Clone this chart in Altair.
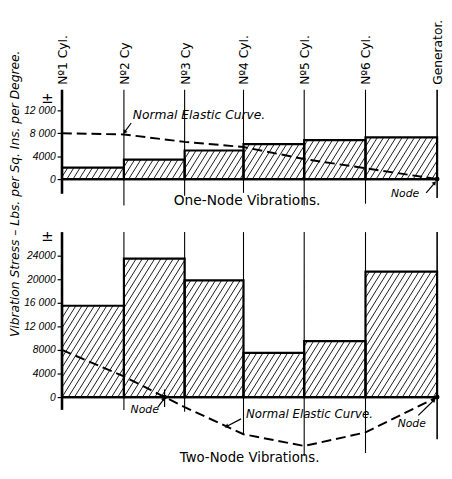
import math
import altair as alt
import pandas as pd

# ---------------- data ----------------
stations = ["Nº1 Cyl.", "Nº2 Cy", "Nº3 Cy", "Nº4 Cyl.", "Nº5 Cyl.", "Nº6 Cyl.", "Generator."]
station_pos = [0, 1.02, 2.02, 2.99, 3.99, 5.0, 6.18]

one_node_stress = [2000, 3400, 5000, 6100, 6800, 7300]
one_node_curve = [8000, 7800, 6500, 5600, 3500, 1900, 0]
one_node_nodes = [6.18]

two_node_stress = [15500, 23500, 19800, 7500, 9500, 21300]
two_node_curve = [8000, 3500, -1700, -6300, -8300, -6000, 0]
two_node_nodes = [1.69, 6.18]

top_ticks = [0, 4000, 8000, 12000]
top_tick_labels = ["0", "4000", "8 000", "12 000"]
bot_ticks = [0, 4000, 8000, 12000, 16000, 20000, 24000]
bot_tick_labels = ["0", "4000", "8000", "12 000", "16 000", "20000", "24000"]

# lower ends of the station lines in each panel (data units)
top_line_ends = [-2570, -4630, -2900, -2400, -4630, -4300, -3300]
bot_line_ends = [-2170, -2170, -2500, -6170, -10000, -9500, -7170]

# ---------------- layout ----------------
X_MAX = 6.18
W = 382
H = 373                      # both panels share one plot area
TOP_PXK = 118 / 20240        # px per stress unit, one-node panel
BOT_PXK = 228 / 38000        # px per stress unit, two-node panel
TOP_REGION = [-4630, 15610]
BOT_REGION = [-10000, 28000]
TOP_DOM = [TOP_REGION[1] - H / TOP_PXK, TOP_REGION[1]]
BOT_DOM = [BOT_REGION[0], BOT_REGION[0] + H / BOT_PXK]
FONT = "DejaVu Sans"
PX_X = W / X_MAX


def xs():
    return alt.Scale(domain=[0, X_MAX], nice=False, zero=False)


def ys(dom):
    return alt.Scale(domain=dom, nice=False, zero=False)


def label_expr(ticks, labels):
    expr = "''"
    for t, l in zip(ticks, labels):
        expr = f"datum.value == {t} ? '{l}' : ({expr})"
    return expr


def make_axis(ticks, labels):
    return alt.Axis(values=ticks, labelExpr=label_expr(ticks, labels), title=None, orient="left",
                    domain=False, grid=False, ticks=True, tickSize=5, tickWidth=1.2,
                    tickColor="black", labelPadding=2, labelFont="Liberation Sans",
                    labelFontStyle="italic", labelFontSize=10.5, labelColor="black")


def panel(stress, curve, nodes, line_ends, region, dom, px_y, ticks, tlabels, annotations,
          arrows, extra_texts, node_ticks):
    ax = make_axis(ticks, tlabels)
    X = lambda f: alt.X(f, scale=xs(), axis=None)
    Y = lambda f: alt.Y(f, scale=ys(dom), axis=ax)

    ymax = max(stress)
    bars = pd.DataFrame({"x0": station_pos[:-1], "x1": station_pos[1:], "v": stress})
    bars["top"] = ymax + 3 / px_y

    shift = ymax * px_y / 1.6 / PX_X
    step = 6.3 / PX_X
    hatch = alt.Chart(alt.sequence(0, X_MAX + shift + step, step, as_="t")).transform_calculate(
        t0=f"datum.t - {shift}", y0="0", y1=str(ymax)
    ).mark_rule(strokeWidth=0.9, color="black", clip=True).encode(
        x=X("t0:Q"), x2="t:Q", y=Y("y0:Q"), y2="y1:Q")

    mask = alt.Chart(bars).mark_rect(color="white").encode(
        x=X("x0:Q"), x2="x1:Q", y=Y("v:Q"), y2="top:Q")

    outline = alt.Chart(bars).mark_rect(fillOpacity=0, stroke="black", strokeWidth=2.2).encode(
        x=X("x0:Q"), x2="x1:Q", y=Y("v:Q"), y2=alt.Y2(datum=0))

    lines_df = pd.DataFrame({"x": station_pos, "lo": line_ends})
    lines_df["hi"] = region[1]
    lines_df["w"] = [2.6] + [1.1] * (len(station_pos) - 2) + [1.6]
    vlines = alt.Chart(lines_df).mark_rule(color="black").encode(
        x=X("x:Q"), y=Y("lo:Q"), y2="hi:Q",
        strokeWidth=alt.StrokeWidth("w:Q", scale=None))

    base_df = pd.DataFrame({"a": [0], "b": [X_MAX], "v": [0]})
    base = alt.Chart(base_df).mark_rule(color="black", strokeWidth=2.4).encode(
        x=X("a:Q"), x2="b:Q", y=Y("v:Q"))

    curve_df = pd.DataFrame({"x": station_pos, "v": curve})
    crv = alt.Chart(curve_df).mark_line(color="black", strokeWidth=2, strokeDash=[10, 5]).encode(
        x=X("x:Q"), y=Y("v:Q"))

    node_df = pd.DataFrame({"x": nodes, "v": [0] * len(nodes)})
    node_pts = alt.Chart(node_df).mark_point(filled=True, color="black", size=24, opacity=1).encode(
        x=X("x:Q"), y=Y("v:Q"))

    layers = [hatch, mask, outline, vlines, base, crv, node_pts]

    if node_ticks:
        nt = pd.DataFrame(node_ticks, columns=["x", "lo", "hi"])
        layers.append(alt.Chart(nt).mark_rule(color="black", strokeWidth=1.2).encode(
            x=X("x:Q"), y=Y("lo:Q"), y2="hi:Q"))

    ann = pd.DataFrame(annotations, columns=["x", "v", "txt", "fs"])
    layers.append(alt.Chart(ann).mark_text(align="left", baseline="middle", font=FONT,
                                           fontStyle="italic", color="black").encode(
        x=X("x:Q"), y=Y("v:Q"), text="txt:N", size=alt.Size("fs:Q", scale=None)))

    arr = pd.DataFrame(arrows, columns=["x1", "v1", "x2", "v2"])
    arr["ang"] = [math.degrees(math.atan2((r.x2 - r.x1) * PX_X, (r.v2 - r.v1) * px_y))
                  for r in arr.itertuples()]
    layers.append(alt.Chart(arr).mark_rule(color="black", strokeWidth=1.2).encode(
        x=X("x1:Q"), x2="x2:Q", y=Y("v1:Q"), y2="v2:Q"))
    layers.append(alt.Chart(arr).mark_point(shape="triangle-up", filled=True, color="black",
                                            size=22, opacity=1).encode(
        x=X("x2:Q"), y=Y("v2:Q"), angle=alt.Angle("ang:Q", scale=None)))

    for df, props in extra_texts:
        layers.append(alt.Chart(df).mark_text(color="black", **props).encode(
            x=X("x:Q"), y=Y("v:Q"), text="txt:N"))

    return alt.layer(*layers)


# one-node panel extras
top_labels_df = pd.DataFrame({"x": station_pos, "v": [16460] * 7, "txt": stations})
pm_top = pd.DataFrame({"x": [-0.24], "v": [14200], "txt": ["±"]})
one_title = pd.DataFrame({"x": [3.05], "v": [-3800], "txt": ["One-Node Vibrations."]})

top = panel(
    one_node_stress, one_node_curve, one_node_nodes, top_line_ends, TOP_REGION, TOP_DOM, TOP_PXK,
    top_ticks, top_tick_labels,
    annotations=[(1.165, 11140, "Normal Elastic Curve.", 12.5), (5.42, -2570, "Node", 11)],
    arrows=[(1.14, 9800, 1.03, 8200), (6.0, -2400, 6.14, -650)],
    extra_texts=[
        (top_labels_df, dict(angle=270, align="left", baseline="middle", font=FONT,
                             fontSize=12.5, dy=1)),
        (pm_top, dict(align="center", baseline="middle", font=FONT, fontSize=15)),
        (one_title, dict(align="center", baseline="middle", font=FONT, fontSize=14)),
    ],
    node_ticks=[],
)

pm_bot = pd.DataFrame({"x": [-0.24], "v": [27300], "txt": ["±"]})
two_title = pd.DataFrame({"x": [3.09], "v": [-10300], "txt": ["Two-Node Vibrations."]})
y_title = pd.DataFrame({"x": [-0.78], "v": [34500],
                        "txt": ["Vibration Stress – Lbs. per Sq. Ins. per Degree."]})

bottom = panel(
    two_node_stress, two_node_curve, two_node_nodes, bot_line_ends, BOT_REGION, BOT_DOM, BOT_PXK,
    bot_ticks, bot_tick_labels,
    annotations=[(1.13, -2170, "Node", 11), (3.03, -2830, "Normal Elastic Curve.", 12),
                 (5.53, -4500, "Node", 11)],
    arrows=[(1.58, -1700, 1.68, -300), (2.95, -3700, 2.71, -5000), (5.87, -3100, 6.13, -500)],
    extra_texts=[
        (pm_bot, dict(align="center", baseline="middle", font=FONT, fontSize=15)),
        (two_title, dict(align="center", baseline="middle", font=FONT, fontSize=13.5)),
        (y_title, dict(angle=270, align="center", baseline="middle", font=FONT,
                       fontStyle="italic", fontSize=12.5)),
    ],
    node_ticks=[(1.69, 1300, -1700)],
)

chart = alt.layer(top, bottom).resolve_scale(y="independent").resolve_axis(
    y="independent"
).properties(
    width=W, height=H,
    autosize=alt.AutoSizeParams(type="none"),
    padding={"left": 55, "top": 79, "right": 7, "bottom": 9},
    background="white",
).configure_view(stroke=None)

chart.save("out.html", embed_options={"renderer": "svg", "actions": False})
